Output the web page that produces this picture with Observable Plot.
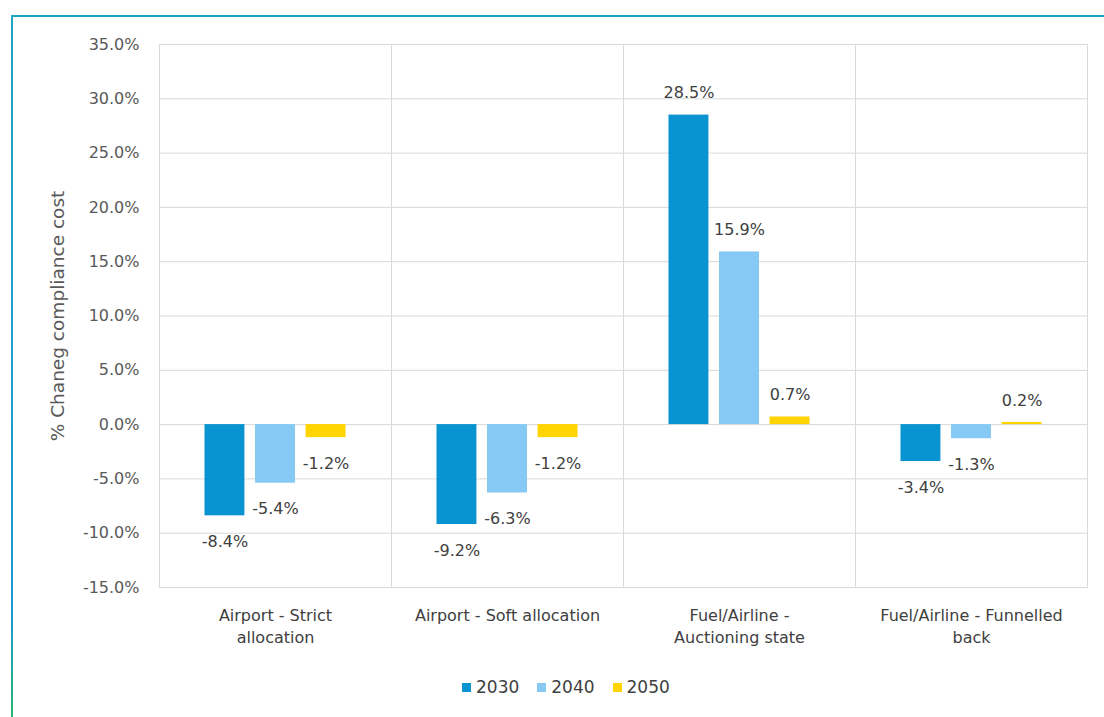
<!DOCTYPE html>
<html>
<head>
<meta charset="utf-8">
<script src="https://cdn.jsdelivr.net/npm/d3@7"></script>
<script src="https://cdn.jsdelivr.net/npm/@observablehq/plot@0.6"></script>
<style>
  html, body { margin: 0; padding: 0; background: #fff; }
  #wrap { position: relative; width: 1104px; height: 717px; overflow: hidden; font-family: "DejaVu Sans", sans-serif; }
  #border { position: absolute; left: 11px; top: 15px; width: 1093px; height: 702px; border-top: 2px solid #1ba6c4; box-sizing: border-box; }
  #lborder { position: absolute; left: 11px; top: 15px; width: 2px; height: 702px; background: linear-gradient(to bottom, #1ba6c4 0%, #1b9ad8 85%, #2bb673 100%); }
  #chart { position: absolute; left: 0; top: 0; }
  #ytitle { position: absolute; left: 57px; top: 316px; transform: translate(-50%, -50%) rotate(-90deg); white-space: nowrap; font-family: "DejaVu Sans", sans-serif; font-size: 18.5px; color: #595959; }
  #legend { position: absolute; top: 677px; left: 0; width: 1104px; display: flex; justify-content: flex-start; padding-left: 462px; box-sizing: border-box; font-size: 17px; color: #404040; }
  .item { display: flex; align-items: center; margin-right: 18px; }
  .sw { width: 9px; height: 9px; margin-right: 5px; }
</style>
</head>
<body>
<div id="wrap">
  <div id="border"></div>
  <div id="lborder"></div>
  <div id="chart"></div>
  <div id="ytitle">% Chaneg compliance cost</div>
  <div id="legend"></div>
</div>
<script>
const categories = [
  "Airport - Strict allocation",
  "Airport - Soft allocation",
  "Fuel/Airline - Auctioning state",
  "Fuel/Airline - Funnelled back"
];
const categoryLabels = [
  "Airport - Strict\nallocation",
  "Airport - Soft allocation",
  "Fuel/Airline -\nAuctioning state",
  "Fuel/Airline - Funnelled\nback"
];
const years = ["2030", "2040", "2050"];
const values2030 = [-8.4, -9.2, 28.5, -3.4];
const values2040 = [-5.4, -6.3, 15.9, -1.3];
const values2050 = [-1.2, -1.2, 0.7, 0.2];
const colors = ["#0a93d1", "#86c9f4", "#ffd400"];
const yTicks = [-15, -10, -5, 0, 5, 10, 15, 20, 25, 30, 35];

const series = [values2030, values2040, values2050];
const data = [];
categories.forEach((c, i) => {
  years.forEach((y, j) => data.push({cat: c, year: y, value: series[j][i]}));
});
const labelOf = new Map(categories.map((c, i) => [c, categoryLabels[i]]));
const fmt = v => v.toFixed(1) + "%";

const plot = Plot.plot({
  width: 1104,
  height: 660,
  marginLeft: 157,
  marginRight: 16,
  marginTop: 44,
  marginBottom: 73,
  style: {fontFamily: "DejaVu Sans, sans-serif", fontSize: "16px", background: "transparent"},
  fx: {domain: categories, padding: 0, label: null},
  x: {domain: years, paddingInner: 0.21, paddingOuter: 0.9, round: false, axis: null},
  y: {domain: [-15, 35], label: null},
  color: {domain: years, range: colors},
  marks: [
    Plot.gridY(yTicks, {stroke: "#d9d9d9", strokeOpacity: 1}),
    Plot.frame({stroke: "#d9d9d9"}),
    Plot.barY(data, {fx: "cat", x: "year", y: "value", fill: "year"}),
    Plot.text(data.filter(d => d.value >= 0), {fx: "cat", x: "year", y: "value", text: d => fmt(d.value), dy: -22, fill: "#404040", fontSize: 16}),
    Plot.text(data.filter(d => d.value < 0), {fx: "cat", x: "year", y: "value", text: d => fmt(d.value), dy: 26, fill: "#404040", fontSize: 16}),
    Plot.axisY(yTicks, {tickSize: 0, tickPadding: 20, tickFormat: fmt, fill: "#595959", fontSize: 16, label: null}),
    Plot.axisFx({anchor: "bottom", tickSize: 0, tickPadding: 17, tickFormat: d => labelOf.get(d), fill: "#404040", fontSize: 16, lineHeight: 1.42, label: null})
  ]
});
document.getElementById("chart").appendChild(plot);

const legend = document.getElementById("legend");
years.forEach((y, i) => {
  const item = document.createElement("div");
  item.className = "item";
  const sw = document.createElement("div");
  sw.className = "sw";
  sw.style.background = colors[i];
  const t = document.createElement("span");
  t.textContent = y;
  item.appendChild(sw);
  item.appendChild(t);
  legend.appendChild(item);
});
</script>
</body>
</html>
